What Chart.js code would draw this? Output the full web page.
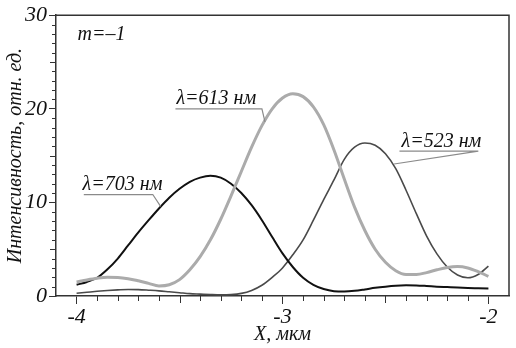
<!DOCTYPE html>
<html>
<head>
<meta charset="utf-8">
<script src="https://cdn.jsdelivr.net/npm/chart.js@4.4.0/dist/chart.umd.min.js"></script>
<style>
html,body{margin:0;padding:0;background:#fff;}
canvas{display:block;}
</style>
</head>
<body>
<canvas id="c" width="516" height="348"></canvas>
<script>
// X positions, мкм
const xValues = [-4.00,-3.95,-3.90,-3.85,-3.80,-3.75,-3.70,-3.65,-3.60,-3.55,-3.50,-3.45,-3.40,-3.35,-3.30,-3.25,-3.20,-3.15,-3.10,-3.05,-3.00,-2.95,-2.90,-2.85,-2.80,-2.75,-2.70,-2.65,-2.60,-2.55,-2.50,-2.45,-2.40,-2.35,-2.30,-2.25,-2.20,-2.15,-2.10,-2.05,-2.00];
// λ=703 нм
const i703 = [1.2,1.5,1.95,2.85,4.0,5.4,6.8,8.1,9.35,10.5,11.45,12.2,12.65,12.85,12.65,12.0,11.0,9.7,8.1,6.3,4.55,3.1,1.95,1.2,0.75,0.52,0.48,0.55,0.7,0.87,1.0,1.1,1.15,1.13,1.07,1.0,0.95,0.9,0.86,0.83,0.8];
// λ=613 нм
const i613 = [1.5,1.72,1.9,2.0,1.98,1.85,1.62,1.35,1.08,1.2,1.75,2.8,4.2,6.0,8.2,10.7,13.3,15.9,18.2,20.0,21.15,21.6,21.3,20.2,18.3,15.6,12.5,9.5,7.0,5.0,3.6,2.7,2.3,2.3,2.5,2.8,3.05,3.15,3.0,2.6,2.1];
// λ=523 нм
const i523 = [0.3,0.4,0.5,0.58,0.65,0.7,0.68,0.62,0.55,0.45,0.35,0.25,0.2,0.15,0.12,0.15,0.28,0.6,1.15,2.0,3.0,4.4,6.0,8.1,10.3,12.4,14.6,15.9,16.35,16.1,15.2,13.6,11.3,8.8,6.4,4.5,3.1,2.25,1.95,2.3,3.2];

const xTickLabels = [-4,-3,-2];
const yTickLabels = [0,10,20,30];
const seriesNames = ['λ=613 нм','λ=703 нм','λ=523 нм'];

const FONT = '"Liberation Serif"';
Chart.defaults.font.family = FONT;
Chart.defaults.font.style = 'italic';

function pts(arr){ return xValues.map((x,i)=>({x:x,y:arr[i]})); }

// annotation anchors in data coordinates
const labels = [
  {text:'λ=703 нм', tx:-3.971, ty:11.37, ux0:-3.965, ux1:-3.63, uy:10.84, lx:-3.592, ly:9.58},
  {text:'λ=613 нм', tx:-3.515, ty:20.53, ux0:-3.52, ux1:-3.10, uy:20.0, lx:-3.085, ly:18.6},
  {text:'λ=523 нм', tx:-2.422, ty:15.9, ux0:-2.432, ux1:-2.049, uy:15.47, lx:-2.458, ly:14.1}
];

const decor = {
  id:'decor',
  afterDraw(chart){
    const ctx = chart.ctx, xs = chart.scales.x, ys = chart.scales.y, a = chart.chartArea;
    ctx.save();
    ctx.strokeStyle = '#333'; ctx.lineWidth = 1.5;
    ctx.beginPath();
    ctx.moveTo(a.left, a.top); ctx.lineTo(a.right, a.top); ctx.lineTo(a.right, a.bottom);
    ctx.stroke();
    ctx.lineWidth = 1;
    for (let k = -40; k <= -20; k++) {
      if (k % 10 === 0) continue;
      const px = Math.round(xs.getPixelForValue(k/10)) + 0.5;
      const len = (k % 5 === 0) ? 7 : 5;
      ctx.beginPath(); ctx.moveTo(px, a.bottom); ctx.lineTo(px, a.bottom + len); ctx.stroke();
    }
    for (let v = 1; v < 30; v++) {
      if (v % 10 === 0) continue;
      const py = Math.round(ys.getPixelForValue(v)) + 0.5;
      const len = (v % 5 === 0) ? 6 : 4;
      ctx.beginPath(); ctx.moveTo(a.left, py); ctx.lineTo(a.left - len, py); ctx.stroke();
    }
    ctx.fillStyle = '#111';
    ctx.font = 'italic 20px "Liberation Serif"';
    ctx.textBaseline = 'alphabetic';
    ctx.textAlign = 'left';
    labels.forEach(l => {
      ctx.fillText(l.text, xs.getPixelForValue(l.tx), ys.getPixelForValue(l.ty));
      ctx.strokeStyle = '#8a8a8a'; ctx.lineWidth = 1.2;
      ctx.beginPath();
      ctx.moveTo(xs.getPixelForValue(l.ux0), ys.getPixelForValue(l.uy));
      ctx.lineTo(xs.getPixelForValue(l.ux1), ys.getPixelForValue(l.uy));
      ctx.lineTo(xs.getPixelForValue(l.lx), ys.getPixelForValue(l.ly));
      ctx.stroke();
    });
    ctx.fillText('m=–1', xs.getPixelForValue(-3.995), ys.getPixelForValue(27.4));
    ctx.restore();
  }
};

new Chart(document.getElementById('c'), {
  type:'line',
  data:{
    datasets:[
      {label:seriesNames[0], data:pts(i613), borderColor:'#ababab', borderWidth:3, pointRadius:0, cubicInterpolationMode:'monotone', fill:false},
      {label:seriesNames[1], data:pts(i703), borderColor:'#111111', borderWidth:2, pointRadius:0, cubicInterpolationMode:'monotone', fill:false},
      {label:seriesNames[2], data:pts(i523), borderColor:'#4a4a4a', borderWidth:1.6, pointRadius:0, cubicInterpolationMode:'monotone', fill:false}
    ]
  },
  options:{
    responsive:false,
    devicePixelRatio:1,
    animation:false,
    layout:{padding:{top:11,right:7,left:0,bottom:0}},
    plugins:{legend:{display:false}, tooltip:{enabled:false}},
    scales:{
      x:{
        type:'linear', min:-4.1, max:-1.9,
        afterBuildTicks(s){ s.ticks = xTickLabels.map(v=>({value:v})); },
        afterFit(s){ s.height = 52; },
        grid:{display:true, drawOnChartArea:false, drawTicks:true, tickLength:8, color:'#333', tickWidth:1},
        border:{display:true, color:'#333', width:1.5},
        ticks:{color:'#111', font:{family:FONT, size:22, style:'italic'}, padding:0, maxRotation:0,
               callback:(v)=>String(v).replace('−','-')},
        title:{display:true, text:'X, мкм', color:'#111', font:{family:FONT, size:20, style:'italic'}, padding:{top:0,bottom:1}}
      },
      y:{
        type:'linear', min:0, max:30,
        afterBuildTicks(s){ s.ticks = yTickLabels.map(v=>({value:v})); },
        afterFit(s){ s.width = 56; },
        grid:{display:true, drawOnChartArea:false, drawTicks:true, tickLength:7, color:'#333', tickWidth:1},
        border:{display:true, color:'#333', width:1.5},
        ticks:{color:'#111', font:{family:FONT, size:22, style:'italic'}, padding:2},
        title:{display:true, text:'Интенсивность, отн. ед.', color:'#111', font:{family:FONT, size:20, style:'italic'}, padding:{top:4,bottom:0}}
      }
    }
  },
  plugins:[decor]
});
</script>
</body>
</html>
